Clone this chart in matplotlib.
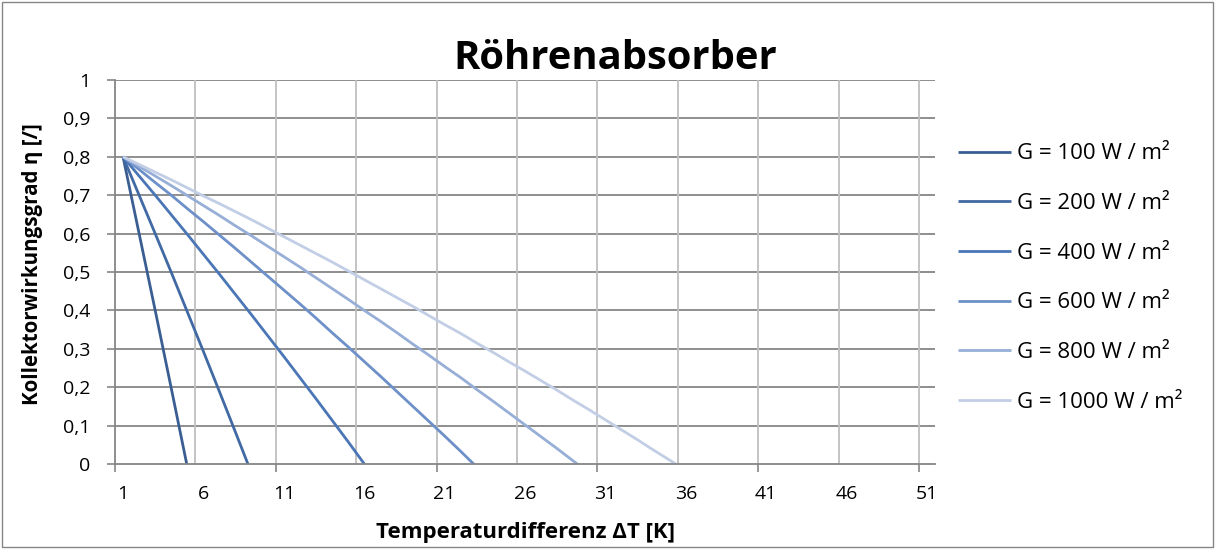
import numpy as np
import matplotlib
matplotlib.use("Agg")
from matplotlib import pyplot as plt
from matplotlib.patches import Rectangle

plt.rcParams['font.family'] = ['Open Sans', 'DejaVu Sans']

# category index 1..51, labels every 5th category
x_labels = [1, 6, 11, 16, 21, 26, 31, 36, 41, 46, 51]
y_ticks = [0, 0.1, 0.2, 0.3, 0.4, 0.5, 0.6, 0.7, 0.8, 0.9, 1.0]

series_names = ['G = 100 W / m²', 'G = 200 W / m²', 'G = 400 W / m²',
                'G = 600 W / m²', 'G = 800 W / m²', 'G = 1000 W / m²']

eta_100 = [0.8, 0.60, 0.40, 0.197, -0.008]
eta_200 = [0.8, 0.70, 0.60, 0.499, 0.396, 0.293, 0.188, 0.082, -0.025]
eta_400 = [0.8, 0.750, 0.700, 0.649, 0.598, 0.546, 0.494, 0.441, 0.388,
           0.334, 0.280, 0.225, 0.170, 0.114, 0.058, 0.0005, -0.057]
eta_600 = [0.8, 0.767, 0.733, 0.700, 0.665, 0.631, 0.596, 0.561, 0.525,
           0.489, 0.453, 0.417, 0.380, 0.342, 0.305, 0.267, 0.229, 0.190,
           0.151, 0.112, 0.073, 0.033, -0.008]
eta_800 = [0.8, 0.775, 0.750, 0.725, 0.699, 0.673, 0.647, 0.620, 0.594,
           0.567, 0.540, 0.513, 0.485, 0.457, 0.429, 0.400, 0.372, 0.343,
           0.313, 0.284, 0.254, 0.225, 0.194, 0.164, 0.133, 0.102, 0.071,
           0.040, 0.008, -0.024]
eta_1000 = [0.8, 0.780, 0.760, 0.740, 0.719, 0.698, 0.678, 0.657, 0.636,
            0.614, 0.592, 0.570, 0.548, 0.526, 0.503, 0.480, 0.457, 0.434,
            0.411, 0.387, 0.363, 0.340, 0.315, 0.291, 0.266, 0.242, 0.217,
            0.192, 0.166, 0.141, 0.115, 0.089, 0.063, 0.036, 0.010, -0.017]

colors = ['#3A5E92', '#4169A3', '#4A76B6', '#6D90C8', '#97AED7', '#C2CEE5']

fig = plt.figure(figsize=(12.15, 5.49), dpi=100)
ax = fig.add_axes([115 / 1215, 1 - 464 / 549, 820 / 1215, 384 / 549])

# outer chart border
fig.patches.append(Rectangle((0.002, 0.004), 0.996, 0.992, transform=fig.transFigure,
                             fill=False, edgecolor='#868686', lw=1.0))

for name, vals, c in zip(series_names,
                         [eta_100, eta_200, eta_400, eta_600, eta_800, eta_1000],
                         colors):
    xs = np.arange(1, len(vals) + 1)
    ax.plot(xs, vals, color=c, lw=2.0, label=name, solid_capstyle='butt')

ax.set_xlim(0.5, 51.5)
ax.set_ylim(0, 1)

# gridlines
for yv in y_ticks[1:]:
    ax.axhline(yv, color='#868686', lw=1.3, zorder=0)
for xv in np.arange(5.5, 51, 5):
    ax.axvline(xv, color='#BFBFBF', lw=1.3, zorder=0)

ax.set_yticks(y_ticks)
ax.set_yticklabels([('%g' % v).replace('.', ',') for v in y_ticks], fontsize=14)
ax.tick_params(axis='y', direction='out', length=6, width=1.2, color='#868686', pad=12)

ax.set_xticks(np.arange(0.5, 52, 10))
ax.set_xticklabels([])
ax.tick_params(axis='x', which='major', direction='out', length=6, width=1.2, color='#868686')
ax.set_xticks(x_labels, minor=True)
ax.set_xticklabels([str(v) for v in x_labels], minor=True, fontsize=14)
ax.tick_params(axis='x', which='minor', length=0, pad=15)

for s in ['top', 'right']:
    ax.spines[s].set_visible(False)
for s in ['left', 'bottom']:
    ax.spines[s].set_color('#868686')
    ax.spines[s].set_linewidth(1.3)

fig.text(615 / 1215, 1 - 69 / 549, 'Röhrenabsorber', fontsize=28.8, fontweight='bold',
         ha='center', va='baseline')
fig.text(525 / 1215, 1 - 538 / 549, 'Temperaturdifferenz ΔT [K]', fontsize=16,
         fontweight='bold', ha='center', va='baseline')
fig.text(33 / 1215, 1 - 264 / 549, 'Kollektorwirkungsgrad η [/]', fontsize=14.8,
         fontweight='bold', ha='center', va='center', rotation=90)

ax.legend(loc='center left', bbox_to_anchor=(958 / 1215, 1 - 278 / 549),
          bbox_transform=fig.transFigure, frameon=False, fontsize=16,
          borderpad=0, borderaxespad=0, handlelength=2.4, handletextpad=0.27,
          labelspacing=1.29)

fig.savefig('out.png', dpi=100)
